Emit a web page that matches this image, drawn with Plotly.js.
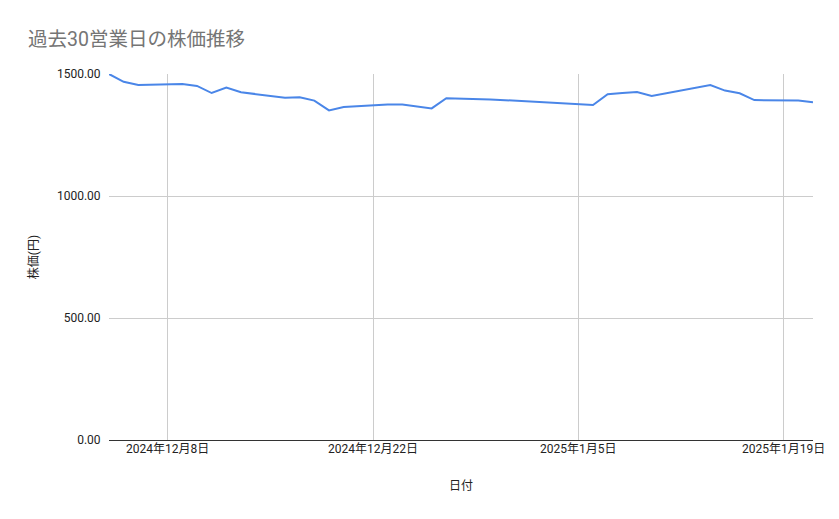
<!DOCTYPE html>
<html>
<head>
<meta charset="utf-8">
<script src="https://cdn.plot.ly/plotly-3.0.1.min.js"></script>
<style>html,body{margin:0;padding:0;background:#fff}#chart{width:839px;height:519px}</style>
</head>
<body>
<div id="chart"></div>
<script>
const dates = ["2024-12-04","2024-12-05","2024-12-06","2024-12-09","2024-12-10","2024-12-11","2024-12-12","2024-12-13",
  "2024-12-16","2024-12-17","2024-12-18","2024-12-19","2024-12-20","2024-12-23","2024-12-24","2024-12-25","2024-12-26","2024-12-27",
  "2024-12-30","2025-01-06","2025-01-07","2025-01-08","2025-01-09","2025-01-10","2025-01-14","2025-01-15","2025-01-16","2025-01-17",
  "2025-01-20","2025-01-21"];
const prices = [1500,1468,1455,1459,1451,1422,1444,1425,
  1403,1405,1391,1351,1365,1375,1375,1366,1359,1401,
  1396,1373,1417,1422,1426,1410,1455,1432,1421,1393,
  1391,1384];
const xTickVals = ["2024-12-08","2024-12-22","2025-01-05","2025-01-19"];
const xTickText = ["2024年12月8日","2024年12月22日","2025年1月5日","2025年1月19日"];
const yTickVals = [0,500,1000,1500];
const titleText = "過去30営業日の株価推移";
const xTitle = "日付";
const yTitle = "株価(円)";

const FONT = "Roboto, 'Noto Sans CJK JP', sans-serif";

Plotly.newPlot("chart", [{
  x: dates, y: prices, type: "scatter", mode: "lines",
  line: {color: "#4a86e8", width: 2},
  hoverinfo: "x+y"
}], {
  width: 839, height: 519,
  margin: {l: 109, r: 26, t: 74, b: 79},
  paper_bgcolor: "#fff", plot_bgcolor: "#fff",
  font: {family: FONT, size: 12, color: "#222"},
  showlegend: false,
  title: {text: titleText, font: {family: FONT, size: 19.5, color: "#757575"},
    xref: "container", yref: "container", x: 28/839, xanchor: "left", y: 1 - 39/519, yanchor: "middle"},
  xaxis: {
    type: "date", range: ["2024-12-04", "2025-01-21"],
    tickvals: xTickVals, ticktext: xTickText,
    showgrid: true, gridcolor: "#cccccc", gridwidth: 1,
    showline: false, zeroline: false, ticks: "",
    tickfont: {family: FONT, size: 12, color: "#222"},
    title: {text: xTitle, font: {family: FONT, size: 12, color: "#222"}, standoff: 26}
  },
  yaxis: {
    range: [0, 1500], tickvals: yTickVals, tickformat: ".2f",
    showgrid: true, gridcolor: "#cccccc", gridwidth: 1,
    zeroline: true, zerolinecolor: "#333333", zerolinewidth: 1,
    showline: false, ticks: "outside", ticklen: 5, tickcolor: "rgba(0,0,0,0)",
    tickfont: {family: FONT, size: 12, color: "#222"},
    title: {text: yTitle, font: {family: FONT, size: 12, color: "#222"}, standoff: 15}
  }
}, {displayModeBar: false});
</script>
</body>
</html>
